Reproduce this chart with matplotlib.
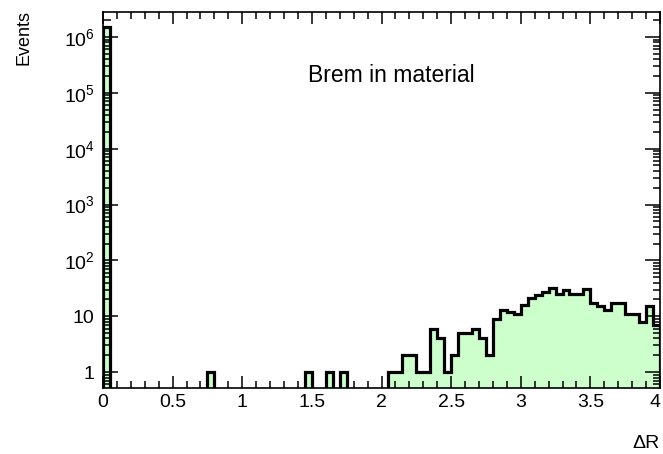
import numpy as np
import matplotlib
matplotlib.use("Agg")
import matplotlib.pyplot as plt
from matplotlib.ticker import LogLocator, MultipleLocator, NullFormatter

plt.rcParams["font.family"] = ["Liberation Sans", "DejaVu Sans"]
plt.rcParams["mathtext.default"] = "regular"

# Histogram binning: 80 bins of width 0.05 over 0 <= dR <= 4
bin_edges = np.linspace(0.0, 4.0, 81)

# Event counts per bin
counts = np.array([
    1.5e6, 0, 0, 0, 0, 0, 0, 0, 0, 0,      # 0.00 - 0.50
    0, 0, 0, 0, 0, 1, 0, 0, 0, 0,          # 0.50 - 1.00
    0, 0, 0, 0, 0, 0, 0, 0, 0, 1,          # 1.00 - 1.50
    0, 0, 1, 0, 1, 0, 0, 0, 0, 0,          # 1.50 - 2.00
    0, 1, 1, 2, 2, 1, 1, 6, 4, 1,          # 2.00 - 2.50
    2, 5, 5, 6, 4, 2, 9, 13, 12, 11,       # 2.50 - 3.00
    16, 21, 24, 27, 32, 25, 30, 25, 25, 31,  # 3.00 - 3.50
    17, 15, 13, 17, 17, 11, 11, 8, 15, 7,  # 3.50 - 4.00
], dtype=float)

xtick_values = [0, 0.5, 1, 1.5, 2, 2.5, 3, 3.5, 4]
xtick_labels = ["0", "0.5", "1", "1.5", "2", "2.5", "3", "3.5", "4"]
ytick_values = [1, 10, 1e2, 1e3, 1e4, 1e5, 1e6]
ytick_labels = ["1", "10", "$10^{2}$", "$10^{3}$", "$10^{4}$", "$10^{5}$", "$10^{6}$"]

W, H = 663, 454
fig = plt.figure(figsize=(W / 100, H / 100), dpi=100)
left, right, top, bottom = 103, 660, 12, 387.5
ax = fig.add_axes([left / W, 1 - bottom / H, (right - left) / W, (bottom - top) / H])

# empty bins are pushed below the visible range of the log axis
floor = 1e-2
shown = np.where(counts > 0, counts, floor)
ax.stairs(shown, bin_edges, baseline=floor, fill=True, color="#ccffcc", lw=0)
ax.stairs(shown, bin_edges, baseline=floor, color="black", lw=2.3)

ax.set_yscale("log")
ax.set_xlim(0, 4)
ax.set_ylim(0.53, 2.8e6)

ax.set_xticks(xtick_values, xtick_labels)
ax.xaxis.set_minor_locator(MultipleLocator(0.1))
ax.set_yticks(ytick_values, ytick_labels)
ax.yaxis.set_minor_locator(LogLocator(base=10, subs=np.arange(2, 10), numticks=30))
ax.yaxis.set_minor_formatter(NullFormatter())

ax.tick_params(which="both", direction="in", top=True, right=True,
               width=1.1, labelsize=14, colors="black")
ax.tick_params(axis="x", which="major", length=8.6, pad=5)
ax.tick_params(axis="x", which="minor", length=5)
ax.tick_params(axis="y", which="major", length=10.8, pad=6)
ax.tick_params(axis="y", which="minor", length=5.4)
for s in ax.spines.values():
    s.set_linewidth(1.2)

# keep the last x label inside the canvas
ax.get_xticklabels()[-1].set_horizontalalignment("right")

fig.text(24 / W, 1 - 10 / H, "Events", rotation=90, ha="center", va="top", fontsize=13)
fig.text(660 / W, 1 - 443 / H, "ΔR", ha="right", va="center", fontsize=14)
fig.text(391.5 / W, 1 - 75 / H, "Brem in material", ha="center", va="center", fontsize=16.5)

fig.savefig("out.png", dpi=100, facecolor="white")
